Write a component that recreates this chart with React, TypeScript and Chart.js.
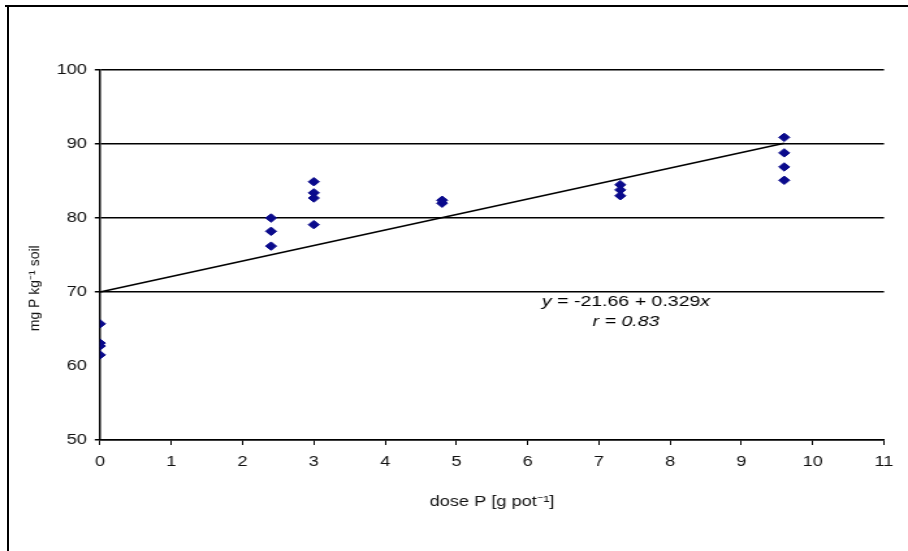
import React, { useEffect, useRef } from "react";
import { Chart, registerables } from "chart.js";

Chart.register(...registerables);

const doses = [0, 2.4, 3, 4.8, 7.3, 9.6];
const soilP = [
  [65.7, 63.1, 62.7, 61.5],
  [80.0, 78.2, 76.2],
  [84.9, 83.4, 82.7, 79.1],
  [82.0, 82.4],
  [84.5, 83.8, 83.0],
  [90.9, 88.8, 86.9, 85.1],
];
const trendX = [0, 9.6];
const trendY = [70, 90.1];
const xTickRange = [0, 11];
const yTickRange = [50, 100];
const xTitle = "dose P [g pot⁻¹]";
const yTitle = "mg P kg⁻¹ soil";
const equationLine1 = ["y", " = -21.66 + 0.329", "x"];
const equationLine2 = "r = 0.83";
const equationPos = { x: 7.38, y1: 68.65, y2: 65.95 };
const yTitlePos = { screenX: 35, value: 70.5 };

const FONT = "'Liberation Sans', Arial, sans-serif";
const W = 908;
const H = 551;
const CW = 698; // canvas width, stretched horizontally to W
const S = W / CW;

export default function App() {
  const ref = useRef<HTMLCanvasElement | null>(null);

  useEffect(() => {
    if (!ref.current) return;
    const points: { x: number; y: number }[] = [];
    doses.forEach((d, i) => soilP[i].forEach((v) => points.push({ x: d, y: v })));
    const trend = trendX.map((x, i) => ({ x, y: trendY[i] }));

    const textPlugin = {
      id: "eqText",
      beforeDraw(chart: any) {
        const c = chart.ctx;
        c.save();
        c.fillStyle = "#fff";
        c.fillRect(0, 0, chart.width, chart.height);
        c.restore();
      },
      afterDraw(chart: any) {
        const c = chart.ctx;
        const xs = chart.scales.x;
        const ys = chart.scales.y;
        const cx = xs.getPixelForValue(equationPos.x);
        const y1 = ys.getPixelForValue(equationPos.y1);
        const y2 = ys.getPixelForValue(equationPos.y2);
        c.save();
        c.fillStyle = "#000";
        c.textBaseline = "middle";
        const fonts = [`italic 15px ${FONT}`, `15px ${FONT}`, `italic 15px ${FONT}`];
        let total = 0;
        const widths = equationLine1.map((s, i) => {
          c.font = fonts[i];
          const w = c.measureText(s).width;
          total += w;
          return w;
        });
        let x = cx - total / 2;
        c.textAlign = "left";
        equationLine1.forEach((s, i) => {
          c.font = fonts[i];
          c.fillText(s, x, y1);
          x += widths[i];
        });
        c.font = `italic 15px ${FONT}`;
        c.textAlign = "center";
        c.fillText(equationLine2, cx, y2);
        c.restore();

        // y-axis title, drawn unstretched
        c.save();
        c.translate(yTitlePos.screenX / S, ys.getPixelForValue(yTitlePos.value));
        c.scale(1 / S, 1);
        c.rotate(-Math.PI / 2);
        c.font = `14px ${FONT}`;
        c.fillStyle = "#111";
        c.textAlign = "center";
        c.textBaseline = "middle";
        c.fillText(yTitle, 0, 0);
        c.restore();
      },
    };

    const chart = new Chart(ref.current, {
      type: "scatter",
      data: {
        datasets: [
          {
            data: points,
            pointStyle: "rectRot",
            pointRadius: 4.2,
            backgroundColor: "#0a0a8c",
            borderColor: "#0a0a8c",
            borderWidth: 1,
            order: 1,
          },
          {
            data: trend,
            showLine: true,
            pointRadius: 0,
            borderColor: "#000",
            borderWidth: 1.5,
            order: 2,
          } as any,
        ],
      },
      options: {
        animation: false,
        responsive: false,
        devicePixelRatio: 1,
        layout: { padding: { top: 70, right: (W - 884) / S, bottom: 0, left: 0 } },
        plugins: { legend: { display: false }, tooltip: { enabled: false } },
        scales: {
          x: {
            type: "linear",
            min: xTickRange[0],
            max: xTickRange[1],
            afterFit(s: any) {
              s.height = 111;
            },
            ticks: {
              stepSize: 1,
              color: "#111",
              padding: 9,
              font: { family: FONT, size: 14 },
            },
            grid: { drawOnChartArea: false, drawTicks: true, tickLength: 5, color: "#000" },
            border: { display: true, color: "#000", width: 1.5 },
            title: {
              display: true,
              text: xTitle,
              color: "#111",
              font: { family: FONT, size: 14 },
              padding: { top: 0, bottom: 40 },
            },
          },
          y: {
            type: "linear",
            min: yTickRange[0],
            max: yTickRange[1],
            afterFit(s: any) {
              s.width = 100 / S;
            },
            ticks: {
              stepSize: 10,
              color: "#111",
              padding: 6,
              font: { family: FONT, size: 14 },
            },
            grid: {
              drawTicks: true,
              tickLength: 4,
              lineWidth: 1.5,
              color: (ctx: any) => (ctx.tick && ctx.tick.value === 60 ? "rgba(0,0,0,0)" : "#000"),
            },
            border: { display: true, color: "#000", width: 1.5 },
            title: { display: false },
          },
        },
      },
      plugins: [textPlugin],
    });
    return () => chart.destroy();
  }, []);

  return (
    <div style={{ position: "absolute", left: 0, top: 0, width: W, height: H, overflow: "hidden", background: "#fff" }}>
      <div
        style={{
          position: "absolute",
          left: 0,
          top: 0,
          width: CW,
          height: H,
          transform: `scaleX(${S})`,
          transformOrigin: "0 0",
        }}
      >
        <canvas ref={ref} width={CW} height={H} style={{ display: "block" }} />
      </div>
      <div style={{ position: "absolute", left: 5, top: 5, width: W - 5, height: 2, background: "#000" }} />
      <div style={{ position: "absolute", left: 7, top: 5, width: 2, height: H - 5, background: "#000" }} />
    </div>
  );
}
